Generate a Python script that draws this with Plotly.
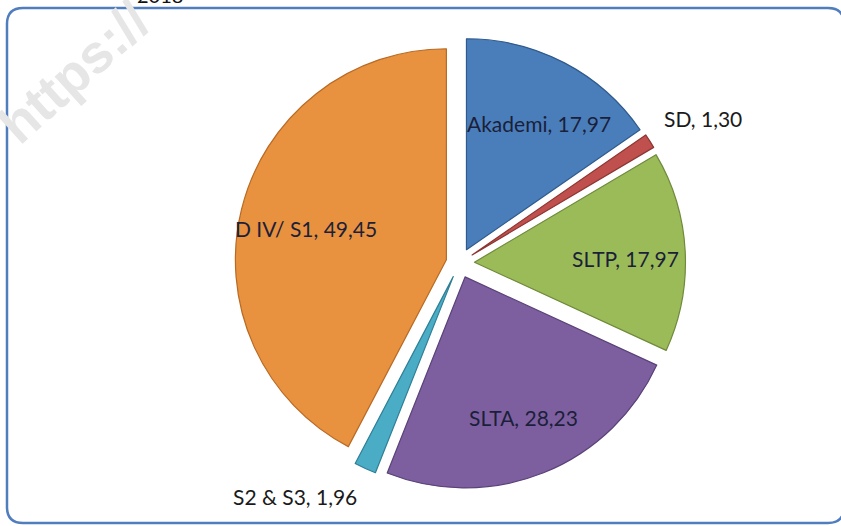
import math
import plotly.graph_objects as go

W, H = 841, 526

categories = ["Akademi", "SD", "SLTP", "SLTA", "S2 & S3", "D IV/ S1"]
values = [17.97, 1.30, 17.97, 28.23, 1.96, 49.45]
value_labels = ["17,97", "1,30", "17,97", "28,23", "1,96", "49,45"]
colors = ["#4A7EBB", "#C0504D", "#9BBB59", "#7D5FA0", "#4BACC6", "#E8913F"]
edge_colors = ["#2F5A8C", "#8C3532", "#6F8A3A", "#5A4278", "#2E7F96", "#B86A24"]
label_inside = [True, False, True, True, False, True]
pulls = [0.071, 0.071, 0.071, 0.071, 0.071, 0.064]

# pie geometry (pixels)
cx, cy, r = 459.5, 263, 211
half = r * (1 + max(pulls))
dom_x = [(cx - half) / W, (cx + half) / W]
dom_y = [(H - cy - half) / H, (H - cy + half) / H]

fig = go.Figure(go.Pie(
    labels=categories,
    values=values,
    text=value_labels,
    textinfo="none",
    sort=False,
    direction="clockwise",
    rotation=0,
    pull=pulls,
    marker=dict(colors=colors, line=dict(color=edge_colors, width=1.2)),
    domain=dict(x=dom_x, y=dom_y),
    showlegend=False,
    hoverinfo="label+value",
))

def px(x):
    return x / W

def py(y):
    return 1 - y / H

# data labels placed along each slice's bisector (Excel-style best fit)
annotations = []
total = sum(values)
cum = 0.0
for lab, val, vtxt, inside in zip(categories, values, value_labels, label_inside):
    mid = (cum + val / 2) / total * 2 * math.pi
    cum += val
    s, c = math.sin(mid), math.cos(mid)
    if inside:
        d = 0.77 * r
        x, y = cx + d * s + 4, cy - d * c + 4
        annotations.append(dict(
            text=f"{lab}, {vtxt}", x=px(x), y=py(y), xref="paper", yref="paper",
            xanchor="center", yanchor="middle", showarrow=False,
            font=dict(family="Lato", size=21, color="#1B1F3A")))
    else:
        d = 1.14 * r
        x, y = cx + d * s, cy - d * c
        annotations.append(dict(
            text=f"{lab}, {vtxt}", x=px(x), y=py(y), xref="paper", yref="paper",
            xanchor="left" if s > 0 else "right",
            yanchor="bottom" if c > 0 else "top", showarrow=False,
            font=dict(family="Lato", size=21, color="#1a1a1a")))

annotations += [
    dict(text="2018", x=px(160), y=py(9), xref="paper", yref="paper",
         xanchor="center", yanchor="bottom", showarrow=False,
         font=dict(family="Lato", size=20, color="#111111")),
    dict(text="<b>https://</b>", x=px(74), y=py(72), xref="paper", yref="paper",
         xanchor="center", yanchor="middle", showarrow=False, textangle=-42,
         font=dict(family="Liberation Sans", size=54, color="#E6E6E6")),
]

# rounded border (right side runs off the canvas)
x0, y0, x1, y1, rr = 7, 8, 844, 523, 16
path = (
    f"M {px(x0)},{py(y0 + rr)} "
    f"Q {px(x0)},{py(y0)} {px(x0 + rr)},{py(y0)} "
    f"L {px(x1 - rr)},{py(y0)} "
    f"Q {px(x1)},{py(y0)} {px(x1)},{py(y0 + rr)} "
    f"L {px(x1)},{py(y1 - rr)} "
    f"Q {px(x1)},{py(y1)} {px(x1 - rr)},{py(y1)} "
    f"L {px(x0 + rr)},{py(y1)} "
    f"Q {px(x0)},{py(y1)} {px(x0)},{py(y1 - rr)} Z"
)

fig.update_layout(
    width=W, height=H,
    margin=dict(l=0, r=0, t=0, b=0),
    paper_bgcolor="white",
    plot_bgcolor="white",
    shapes=[dict(type="path", xref="paper", yref="paper", path=path,
                 line=dict(color="#4F7DBE", width=2.5), fillcolor="rgba(0,0,0,0)",
                 layer="below")],
    annotations=annotations,
)

fig.write_html("out.html",
               config={"displayModeBar": False},
               post_script="document.body.style.margin='0';document.body.style.overflow='hidden';")
